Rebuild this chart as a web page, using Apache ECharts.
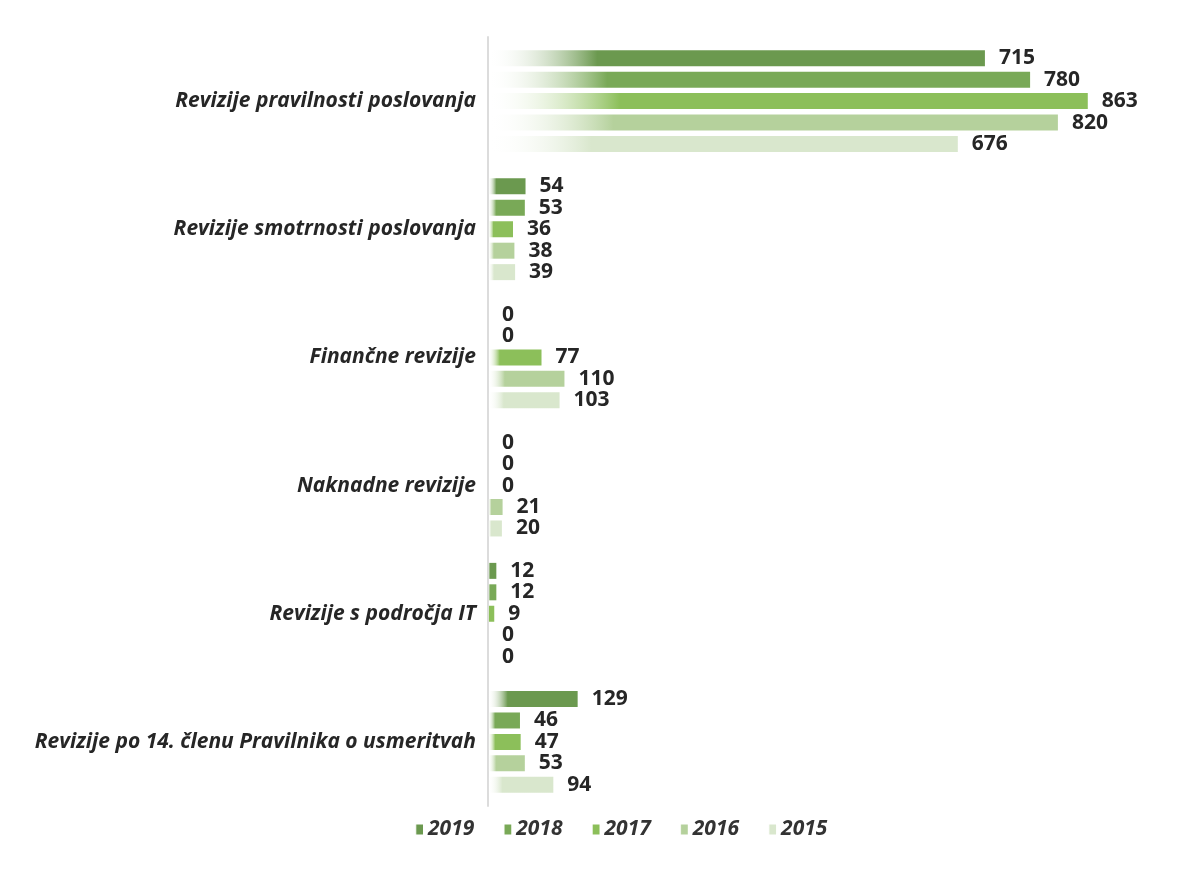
<!DOCTYPE html>
<html>
<head>
<meta charset="utf-8">
<script src="https://cdn.jsdelivr.net/npm/echarts@6/dist/echarts.min.js"></script>
<style>
  html, body { margin: 0; padding: 0; background: #fff; }
  #chart { width: 1203px; height: 883px; }
</style>
</head>
<body>
<div id="chart"></div>
<script>
var categories = [
    'Revizije pravilnosti poslovanja',
    'Revizije smotrnosti poslovanja',
    'Finančne revizije',
    'Naknadne revizije',
    'Revizije s področja IT',
    'Revizije po 14. členu Pravilnika o usmeritvah'
];
var years = ['2019', '2018', '2017', '2016', '2015'];
var v2019 = [715, 54, 0, 0, 12, 129];
var v2018 = [780, 53, 0, 0, 12, 46];
var v2017 = [863, 36, 77, 0, 9, 47];
var v2016 = [820, 38, 110, 21, 0, 53];
var v2015 = [676, 39, 103, 20, 0, 94];
var values = [v2019, v2018, v2017, v2016, v2015];
var colors = ['#6b994f', '#79a957', '#8cbf5a', '#b5d19c', '#d9e7cd'];

var myChart = echarts.init(document.getElementById('chart'));

function fade(c) {
    return new echarts.graphic.LinearGradient(0, 0, 1, 0, [
        { offset: 0, color: 'rgba(255,255,255,0)' },
        { offset: 0.22, color: c },
        { offset: 1, color: c }
    ]);
}

var series = years.map(function (y, i) {
    return {
        name: y,
        type: 'bar',
        data: values[i],
        barWidth: 16,
        barGap: '34%',
        itemStyle: { color: fade(colors[i]) },
        label: {
            show: true,
            position: 'right',
            distance: 14,
            color: '#262626',
            fontSize: 21,
            fontWeight: 'bold',
            fontFamily: 'Open Sans'
        }
    };
});

var option = {
    backgroundColor: '#fff',
    color: colors,
    grid: { left: 488, right: 20, top: 37, bottom: 77 },
    legend: {
        bottom: 38,
        left: 410,
        data: years,
        itemWidth: 8,
        itemHeight: 10,
        itemGap: 29,
        icon: 'rect',
        textStyle: {
            color: '#333',
            fontSize: 21,
            fontWeight: 'bold',
            fontStyle: 'italic',
            fontFamily: 'Open Sans'
        }
    },
    xAxis: {
        type: 'value',
        min: 0,
        max: 1000,
        show: false
    },
    yAxis: {
        type: 'category',
        data: categories,
        inverse: true,
        axisTick: { show: false },
        axisLine: { lineStyle: { color: '#dcdcdc', width: 2 } },
        axisLabel: {
            margin: 12,
            color: '#262626',
            fontSize: 21,
            fontWeight: 'bold',
            fontStyle: 'italic',
            fontFamily: 'Open Sans'
        }
    },
    series: series
};
myChart.setOption(option);
</script>
</body>
</html>
